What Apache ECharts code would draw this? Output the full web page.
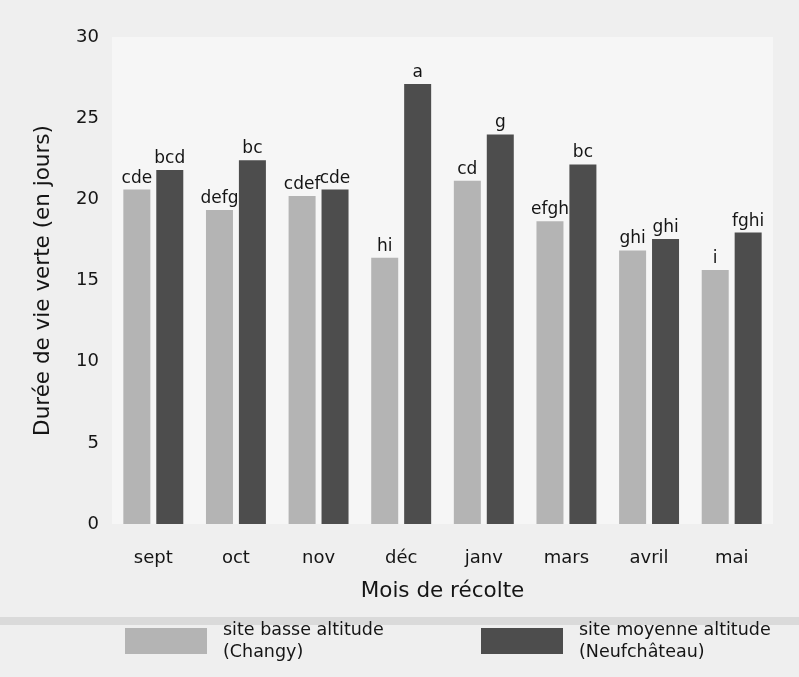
<!DOCTYPE html>
<html>
<head>
<meta charset="utf-8">
<script src="https://cdn.jsdelivr.net/npm/echarts@6/dist/echarts.min.js"></script>
<style>
html,body{margin:0;padding:0;background:#efefef;}
#chart{width:799px;height:677px;}
</style>
</head>
<body>
<div id="chart"></div>
<script>
var categories = ['sept', 'oct', 'nov', 'déc', 'janv', 'mars', 'avril', 'mai'];
var lowValues = [20.6, 19.35, 20.2, 16.4, 21.15, 18.65, 16.85, 15.65];
var midValues = [21.8, 22.4, 20.6, 27.1, 24.0, 22.15, 17.55, 17.95];
var lowLetters = ['cde', 'defg', 'cdef', 'hi', 'cd', 'efgh', 'ghi', 'i'];
var midLetters = ['bcd', 'bc', 'cde', 'a', 'g', 'bc', 'ghi', 'fghi'];
var yTicks = { min: 0, max: 30, interval: 5 };
var lowName = 'site basse altitude (Changy)';
var midName = 'site moyenne altitude (Neufchâteau)';
var legendLabels = {};
legendLabels[lowName] = 'site basse altitude\n(Changy)';
legendLabels[midName] = 'site moyenne altitude\n(Neufchâteau)';

var FONT = 'DejaVu Sans';
var TXT = '#151515';
var chart = echarts.init(document.getElementById('chart'), null, { renderer: 'canvas' });

var legendCommon = {
  orient: 'horizontal',
  top: 614,
  itemWidth: 82,
  itemHeight: 26,
  icon: 'rect',
  selectedMode: false,
  formatter: function (n) { return legendLabels[n]; },
  textStyle: { fontFamily: FONT, fontSize: 17.5, color: TXT, lineHeight: 22, padding: [0, 0, 0, 11] }
};

chart.setOption({
  backgroundColor: '#efefef',
  animation: false,
  graphic: [{
    type: 'rect',
    shape: { x: 0, y: 617, width: 799, height: 8 },
    style: { fill: '#dadada' },
    silent: true
  }],
  legend: [
    Object.assign({}, legendCommon, { left: 120, data: [lowName] }),
    Object.assign({}, legendCommon, { left: 476, data: [midName] })
  ],
  grid: {
    left: 112, right: 26, top: 37, bottom: 153,
    show: true, backgroundColor: '#f6f6f6', borderWidth: 0
  },
  xAxis: {
    type: 'category',
    data: categories,
    name: 'Mois de récolte',
    nameLocation: 'middle',
    nameGap: 56,
    nameTextStyle: { fontFamily: FONT, fontSize: 21.5, color: TXT },
    axisLine: { show: false },
    axisTick: { show: false },
    axisLabel: { fontFamily: FONT, fontSize: 18, color: TXT, margin: 25 },
    splitLine: { show: false }
  },
  yAxis: {
    type: 'value',
    min: yTicks.min, max: yTicks.max, interval: yTicks.interval,
    name: 'Durée de vie verte (en jours)',
    nameLocation: 'middle',
    nameRotate: 90,
    nameGap: 58,
    nameTextStyle: { fontFamily: FONT, fontSize: 21.5, color: TXT },
    axisLine: { show: false },
    axisTick: { show: false },
    axisLabel: { fontFamily: FONT, fontSize: 18, color: TXT, margin: 13 },
    splitLine: { show: false }
  },
  series: [
    {
      name: lowName,
      type: 'bar',
      data: lowValues,
      barWidth: 27,
      barGap: '22%',
      itemStyle: { color: '#b4b4b4' },
      label: {
        show: true, position: 'top', distance: 3,
        fontFamily: FONT, fontSize: 17, color: TXT,
        formatter: function (p) { return lowLetters[p.dataIndex]; }
      }
    },
    {
      name: midName,
      type: 'bar',
      data: midValues,
      barWidth: 27,
      barGap: '22%',
      itemStyle: { color: '#4d4d4d' },
      label: {
        show: true, position: 'top', distance: 3,
        fontFamily: FONT, fontSize: 17, color: TXT,
        formatter: function (p) { return midLetters[p.dataIndex]; }
      }
    }
  ]
});
</script>
</body>
</html>
